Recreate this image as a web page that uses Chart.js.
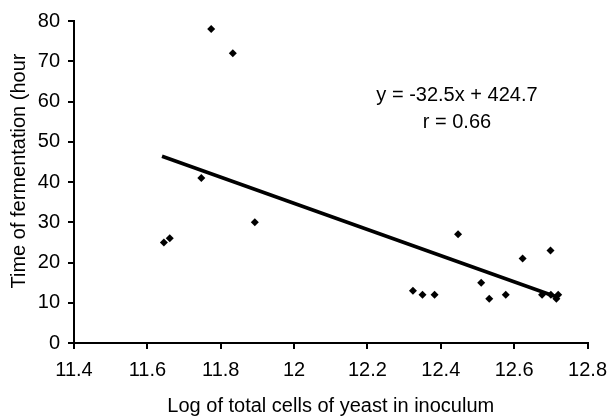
<!DOCTYPE html>
<html>
<head>
<meta charset="utf-8">
<script src="https://cdn.jsdelivr.net/npm/chart.js@4"></script>
<style>
  html, body { margin: 0; padding: 0; background: #fff; }
  #wrap { width: 616px; height: 417px; }
</style>
</head>
<body>
<div id="wrap"><canvas id="canvas" width="616" height="417"></canvas></div>
<script>
"use strict";

// log of total yeast cells in inoculum
var logCells = [11.645, 11.661, 11.747, 11.774, 11.833, 11.893, 12.324, 12.35, 12.383, 12.447,
  12.51, 12.532, 12.577, 12.623, 12.699, 12.676, 12.70, 12.715, 12.72];
// time of fermentation (hours)
var hours = [25, 26, 41, 78, 72, 30, 13, 12, 12, 27, 15, 11, 12, 21, 23, 12, 12, 11, 12];
// trend line end points
var trendX = [11.64, 12.72];
var trendY = [46.4, 11.3];
var xTicks = [11.4, 11.6, 11.8, 12, 12.2, 12.4, 12.6, 12.8];
var yTicks = [0, 10, 20, 30, 40, 50, 60, 70, 80];
var eqText = ['y = -32.5x + 424.7', 'r = 0.66'];
var xTitle = 'Log of total cells of yeast in inoculum';
var yTitle = 'Time of fermentation (hour';

var points = logCells.map(function(v, i) { return { x: v, y: hours[i] }; });
var trend = trendX.map(function(v, i) { return { x: v, y: trendY[i] }; });

var fontStr = '20px "Liberation Sans", Arial, sans-serif';
var font = { family: '"Liberation Sans", Arial, sans-serif', size: 20 };

var textPlugin = {
  id: 'texts',
  afterDraw: function(chart) {
    var c = chart.ctx;
    var sx = chart.scales.x, sy = chart.scales.y;
    var area = chart.chartArea;
    c.save();
    c.fillStyle = '#000';
    c.font = fontStr;
    c.textAlign = 'center';
    c.textBaseline = 'middle';
    c.fillText(eqText[0], sx.getPixelForValue(12.444), sy.getPixelForValue(61.5));
    c.fillText(eqText[1], sx.getPixelForValue(12.444), sy.getPixelForValue(54.8));
    c.fillText(xTitle, (area.left + area.right) / 2, 406);
    c.translate(19, 171);
    c.rotate(-Math.PI / 2);
    c.fillText(yTitle, 0, 0);
    c.restore();
  }
};

var ctx = document.getElementById('canvas').getContext('2d');
window.myChart = new Chart(ctx, {
  type: 'scatter',
  data: {
    datasets: [{
      label: 'Data',
      data: points,
      pointStyle: 'rectRot',
      pointRadius: 4,
      backgroundColor: '#000',
      borderColor: '#000',
      borderWidth: 0
    }, {
      type: 'line',
      label: 'Trend',
      data: trend,
      borderColor: '#000',
      borderWidth: 3.5,
      pointRadius: 0,
      fill: false
    }]
  },
  options: {
    responsive: false,
    animation: false,
    devicePixelRatio: 1,
    layout: { padding: { top: 21, right: 20, left: 0, bottom: 0 } },
    plugins: {
      legend: { display: false },
      tooltip: { enabled: false }
    },
    scales: {
      x: {
        type: 'linear',
        min: 11.4,
        max: 12.8,
        afterBuildTicks: function(axis) {
          axis.ticks = xTicks.map(function(v) { return { value: v }; });
        },
        afterFit: function(axis) { axis.height = 74; },
        ticks: {
          color: '#000',
          font: font,
          padding: 9,
          maxRotation: 0,
          callback: function(v) { return String(Number(v.toFixed(1))); }
        },
        grid: { drawOnChartArea: false, drawTicks: true, tickLength: 6, color: '#000', lineWidth: 2 },
        border: { display: true, color: '#000', width: 2 }
      },
      y: {
        min: 0,
        max: 80,
        afterBuildTicks: function(axis) {
          axis.ticks = yTicks.map(function(v) { return { value: v }; });
        },
        afterFit: function(axis) { axis.width = 74; },
        ticks: { color: '#000', font: font, padding: 8 },
        grid: { drawOnChartArea: false, drawTicks: true, tickLength: 6, color: '#000', lineWidth: 2 },
        border: { display: true, color: '#000', width: 2 }
      }
    }
  },
  plugins: [textPlugin]
});
</script>
</body>
</html>
